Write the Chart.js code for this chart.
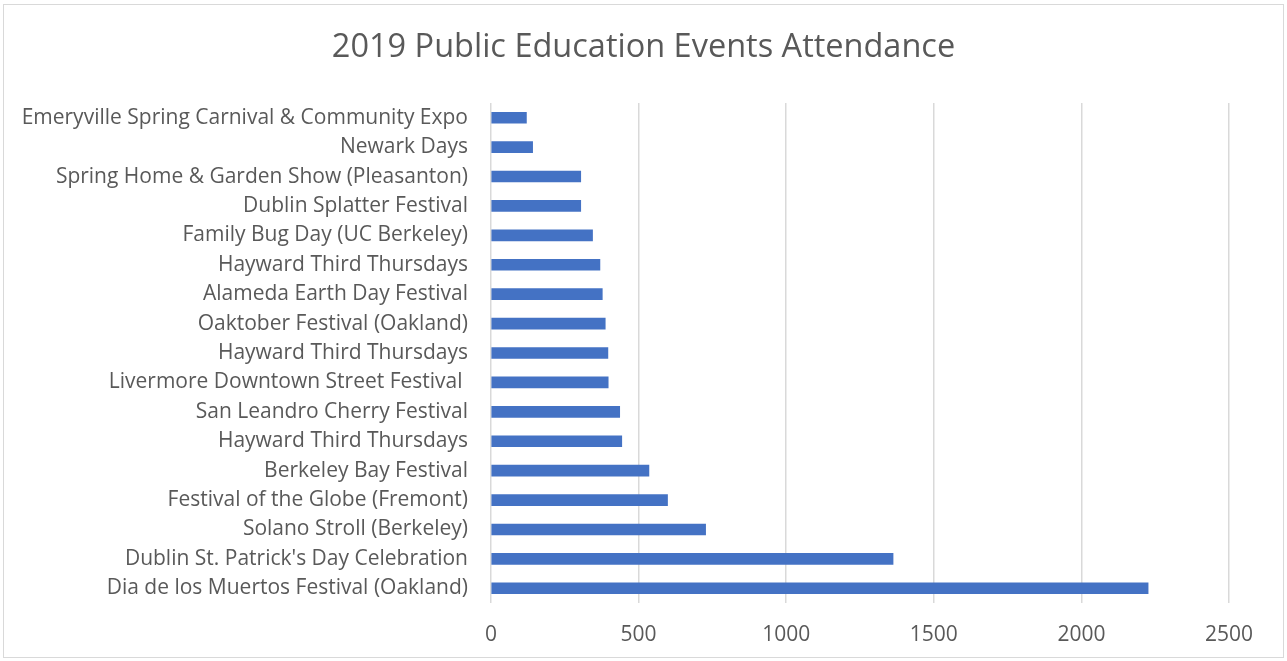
<!DOCTYPE html>
<html>
<head>
<meta charset="utf-8">
<script src="https://cdn.jsdelivr.net/npm/chart.js@4"></script>
<style>
  html, body { margin: 0; padding: 0; background: #fff; }
  #wrap { position: relative; width: 1287px; height: 661px; }
  #frame { position: absolute; left: 3px; top: 4px; width: 1279px; height: 652px; border: 1px solid #d9d9d9; pointer-events: none; }
</style>
</head>
<body>
<div id="wrap">
  <canvas id="c" width="1287" height="661"></canvas>
  <div id="frame"></div>
</div>
<script>
const titleText = "2019 Public Education Events Attendance";
const categories = [
  "Emeryville Spring Carnival & Community Expo",
  "Newark Days",
  "Spring Home & Garden Show (Pleasanton)",
  "Dublin Splatter Festival",
  "Family Bug Day (UC Berkeley)",
  "Hayward Third Thursdays",
  "Alameda Earth Day Festival",
  "Oaktober Festival (Oakland)",
  "Hayward Third Thursdays",
  "Livermore Downtown Street Festival ",
  "San Leandro Cherry Festival",
  "Hayward Third Thursdays",
  "Berkeley Bay Festival",
  "Festival of the Globe (Fremont)",
  "Solano Stroll (Berkeley)",
  "Dublin St. Patrick's Day Celebration",
  "Dia de los Muertos Festival (Oakland)"
];
const attendance = [120, 141, 304, 304, 344, 369, 377, 387, 396, 397, 436, 443, 535, 598, 727, 1362, 2226];
const xMax = 2500;
const xStep = 500;

const FONT = "'Open Sans', 'Liberation Sans', sans-serif";
const TXT = "#595959";

const centerTitle = {
  id: "centerTitle",
  afterLayout(chart) {
    const t = chart.titleBlock;
    if (t) { t.left = 0; t.right = chart.width; t.width = chart.width; }
  }
};

new Chart(document.getElementById("c"), {
  type: "bar",
  data: {
    labels: categories,
    datasets: [{
      data: attendance,
      backgroundColor: "#4472C4",
      borderWidth: 0,
      barThickness: 11
    }]
  },
  options: {
    indexAxis: "y",
    responsive: false,
    animation: false,
    layout: { padding: { left: 0, right: 58, top: 0, bottom: 0 } },
    plugins: {
      legend: { display: false },
      tooltip: { enabled: false },
      title: {
        display: true,
        text: titleText,
        color: TXT,
        font: { family: FONT, size: 32.5, weight: "normal" },
        padding: { top: 28, bottom: 36 }
      }
    },
    scales: {
      x: {
        min: 0,
        max: xMax,
        ticks: {
          stepSize: xStep, color: TXT, font: { family: FONT, size: 21 }, padding: 19,
          callback: (v) => String(v)
        },
        grid: { color: "#d9d9d9", lineWidth: 1.5, drawTicks: false },
        border: { display: false },
        afterFit: (s) => { s.height = 58; }
      },
      y: {
        ticks: { color: TXT, font: { family: FONT, size: 21 }, padding: 23, autoSkip: false },
        grid: { display: false, drawTicks: false },
        border: { display: false },
        afterFit: (s) => { s.width = 491; }
      }
    }
  },
  plugins: [centerTitle]
});
</script>
</body>
</html>
